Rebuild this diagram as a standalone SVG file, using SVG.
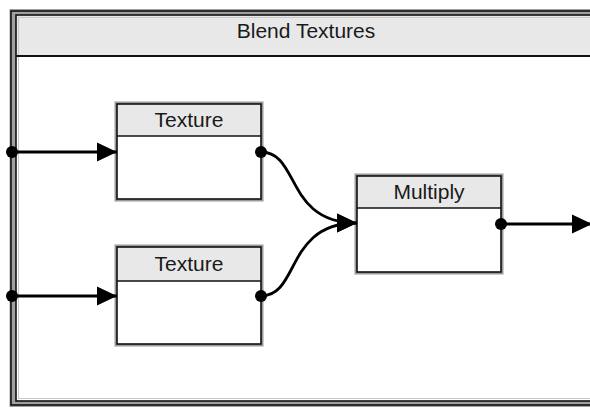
<svg xmlns="http://www.w3.org/2000/svg" width="590" height="409" viewBox="0 0 590 409">
  <defs>
    <marker id="arrow" viewBox="0 0 20 20" refX="20" refY="10" markerWidth="20" markerHeight="20" markerUnits="userSpaceOnUse" orient="auto">
      <path d="M0,0.5 L20,10 L0,19.5 Z" fill="#000"/>
    </marker>
    <marker id="dot" viewBox="0 0 12 12" refX="6" refY="6" markerWidth="12" markerHeight="12" markerUnits="userSpaceOnUse">
      <circle cx="6" cy="6" r="6" fill="#000"/>
    </marker>
  </defs>
  <style>
    .halo { fill: none; stroke: #9a9a9a; stroke-width: 5; }
    .edge { fill: none; stroke: #111; stroke-width: 1.6; }
    .head { fill: #e8e8e8; }
    .body { fill: #fff; }
    .label { font-family: "Liberation Sans", Arial, sans-serif; font-size: 21px; fill: #1a1a1a; text-anchor: middle; }
    .title { font-family: "Liberation Sans", Arial, sans-serif; font-size: 21px; fill: #1a1a1a; text-anchor: middle; }
    .wire { fill: none; stroke: #000; stroke-width: 2.8; }
  </style>

  <rect width="590" height="409" fill="#fff"/>

  <!-- outer container: Blend Textures -->
  <g id="blend-textures">
    <rect x="13.5" y="13" width="600" height="390" fill="none" stroke="#a0a0a0" stroke-width="8"/>
    <rect x="16" y="15" width="600" height="386" fill="#fff"/>
    <rect x="16" y="15" width="600" height="41" class="head"/>
    <rect x="11" y="11" width="610" height="394" class="edge"/>
    <rect x="16" y="15" width="600" height="386" class="edge"/>
    <rect x="18.5" y="17.5" width="600" height="381" fill="none" stroke="#c8c8c8" stroke-width="1"/>
    <line x1="16" y1="56" x2="590" y2="56" stroke="#111" stroke-width="2"/>
    <text x="306" y="38" class="title">Blend Textures</text>
  </g>

  <!-- Texture node (top) -->
  <g id="texture-1">
    <rect x="117" y="104" width="144" height="95" class="halo"/>
    <rect x="117" y="104" width="144" height="95" class="body"/>
    <rect x="117" y="104" width="144" height="32" class="head"/>
    <rect x="117" y="104" width="144" height="95" class="edge"/>
    <line x1="117" y1="136" x2="261" y2="136" class="edge"/>
    <text x="189" y="127" class="label">Texture</text>
  </g>

  <!-- Texture node (bottom) -->
  <g id="texture-2">
    <rect x="117" y="247" width="144" height="97" class="halo"/>
    <rect x="117" y="247" width="144" height="97" class="body"/>
    <rect x="117" y="247" width="144" height="34" class="head"/>
    <rect x="117" y="247" width="144" height="97" class="edge"/>
    <line x1="117" y1="281" x2="261" y2="281" class="edge"/>
    <text x="189" y="271" class="label">Texture</text>
  </g>

  <!-- Multiply node -->
  <g id="multiply">
    <rect x="357" y="176" width="144" height="96" class="halo"/>
    <rect x="357" y="176" width="144" height="96" class="body"/>
    <rect x="357" y="176" width="144" height="32" class="head"/>
    <rect x="357" y="176" width="144" height="96" class="edge"/>
    <line x1="357" y1="208" x2="501" y2="208" class="edge"/>
    <text x="429" y="199" class="label">Multiply</text>
  </g>

  <!-- connectors -->
  <g id="connectors">
    <path d="M12,152 L117,152" class="wire" marker-start="url(#dot)" marker-end="url(#arrow)"/>
    <path d="M12,296 L117,296" class="wire" marker-start="url(#dot)" marker-end="url(#arrow)"/>
    <path d="M261,152 C300,152 285,223 357,223" class="wire" marker-start="url(#dot)" marker-end="url(#arrow)"/>
    <path d="M261,296 C300,296 285,223 357,223" class="wire" marker-start="url(#dot)" marker-end="url(#arrow)"/>
    <path d="M501,224 L592,224" class="wire" marker-start="url(#dot)" marker-end="url(#arrow)"/>
  </g>
</svg>
